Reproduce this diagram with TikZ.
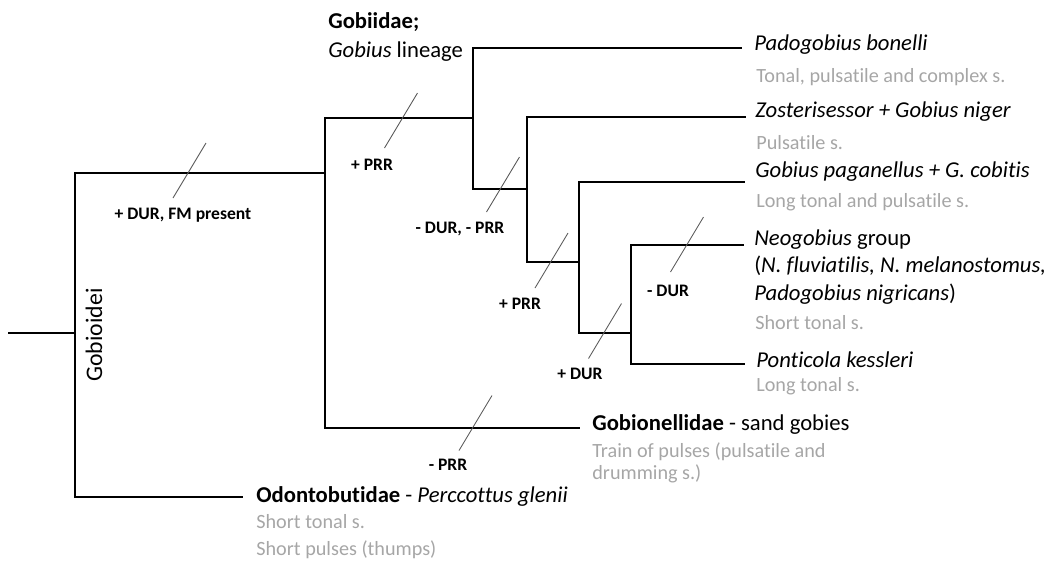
\documentclass[tikz,border=0pt]{standalone}
\usepackage{fontspec}
\setmainfont{Carlito}[Ligatures=NoCommon]
\definecolor{soundgray}{RGB}{166,166,166}
\definecolor{slashgray}{RGB}{90,90,90}
\tikzset{
  branch/.style={line width=1.5pt},
  slash/.style={draw=slashgray, line width=0.5pt},
  taxon/.style={anchor=base west, inner sep=0pt, font=\fontsize{12.9}{15}\selectfont},
  sound/.style={anchor=base west, inner sep=0pt, text=soundgray, font=\fontsize{11.5}{14}\selectfont},
  change/.style={inner sep=0pt, font=\fontsize{10}{12}\selectfont\bfseries},
}

\begin{document}
\begin{tikzpicture}[x=0.02cm, y=-0.02cm]
    \useasboundingbox (0,0) rectangle (1051,562);

    % Branch points
      \coordinate (r0) at (8,333);
      \coordinate (k1) at (75,333);
      \coordinate (k2) at (325,173);
      \coordinate (k3) at (473,118);
      \coordinate (k4) at (527,189);
      \coordinate (k5) at (579,262);
      \coordinate (k6) at (631,333);

    % Tips
      \coordinate (tOdo)  at (243,497);
      \coordinate (tGbn)  at (580,428);
      \coordinate (tPb)   at (742,48);
      \coordinate (tZos)  at (746,117);
      \coordinate (tGpag) at (745,182);
      \coordinate (tNeo)  at (744,245);
      \coordinate (tPk)   at (745,364);

    % Branches
      \draw[branch] (r0) -- (k1);
      \draw[branch] (k1) |- (k2);
      \draw[branch] (k1) |- (tOdo);
      \draw[branch] (k2) |- (k3);
      \draw[branch] (k2) |- (tGbn);
      \draw[branch] (k3) |- (tPb);
      \draw[branch] (k3) |- (k4);
      \draw[branch] (k4) |- (tZos);
      \draw[branch] (k4) |- (k5);
      \draw[branch] (k5) |- (tGpag);
      \draw[branch] (k5) |- (k6);
      \draw[branch] (k6) |- (tNeo);
      \draw[branch] (k6) |- (tPk);

    % Clades
      \node[taxon, rotate=90, anchor=center, font=\fontsize{13.5}{16}\selectfont] (gobioidei) at (94,335) {Gobioidei};
      \node[taxon] (gobiidae) at (328,28) {\textbf{Gobiidae;}};
      \node[taxon] (lineage) at (328,57) {\textit{Gobius} lineage};

    % Taxa and sounds
      \node[taxon] (pb) at (754,50) {\textit{Padogobius bonelli}};
      \node[sound] (pbS) at (756,82) {Tonal, pulsatile and complex s.};
      \node[taxon] (zos) at (755,117) {\textit{Zosterisessor + Gobius niger}};
      \node[sound] (zosS) at (756,149) {Pulsatile s.};
      \node[taxon] (gpag) at (755,177) {\textit{Gobius paganellus + G. cobitis}};
      \node[sound] (gpagS) at (756,207) {Long tonal and pulsatile s.};
      \node[taxon] (neo) at (754,245) {\textit{Neogobius} group};
      \node[taxon] (neo2) at (754,272) {(\textit{N. fluviatilis, N. melanostomus,}};
      \node[taxon] (neo3) at (754,300) {\textit{Padogobius nigricans})};
      \node[sound] (neoS) at (755,329) {Short tonal s.};
      \node[taxon] (pk) at (756,367) {\textit{Ponticola kessleri}};
      \node[sound] (pkS) at (756,391) {Long tonal s.};
      \node[taxon] (gbn) at (592,430) {\textbf{Gobionellidae} - sand gobies};
      \node[sound] (gbnS) at (592,457) {Train of pulses (pulsatile and};
      \node[sound] (gbnS2) at (592,479) {drumming s.)};
      \node[taxon] (odo) at (256,502) {\textbf{Odontobutidae} - \textit{Perccottus glenii}};
      \node[sound] (odoS) at (256,528) {Short tonal s.};
      \node[sound] (odoS2) at (256,555) {Short pulses (thumps)};

    % Character changes
      \coordinate (s1) at (189.5,170.5);
      \coordinate (s2) at (401,120.5);
      \coordinate (s3) at (503,184.5);
      \coordinate (s4) at (551.5,260.5);
      \coordinate (s5) at (687,244.5);
      \coordinate (s6) at (605,331);
      \coordinate (s7) at (475.5,423);
      \draw[slash] (s1) ++(-16.5,27.5) -- ++(33,-55);
      \draw[slash] (s2) ++(-16.5,27.5) -- ++(33,-55);
      \draw[slash] (s3) ++(-16.5,27.5) -- ++(33,-55);
      \draw[slash] (s4) ++(-16.5,27.5) -- ++(33,-55);
      \draw[slash] (s5) ++(-16.5,27.5) -- ++(33,-55);
      \draw[slash] (s6) ++(-16.5,27.5) -- ++(33,-55);
      \draw[slash] (s7) ++(-16.5,27.5) -- ++(33,-55);
      \node[change] (c1) at (183,215) {+ DUR, FM present};
      \node[change] (c2) at (372,165) {+ PRR};
      \node[change] (c3) at (460,229) {- DUR, - PRR};
      \node[change] (c4) at (520,304) {+ PRR};
      \node[change] (c5) at (668,291) {- DUR};
      \node[change] (c6) at (580,374) {+ DUR};
      \node[change] (c7) at (448,465) {- PRR};
\end{tikzpicture}
\end{document}
